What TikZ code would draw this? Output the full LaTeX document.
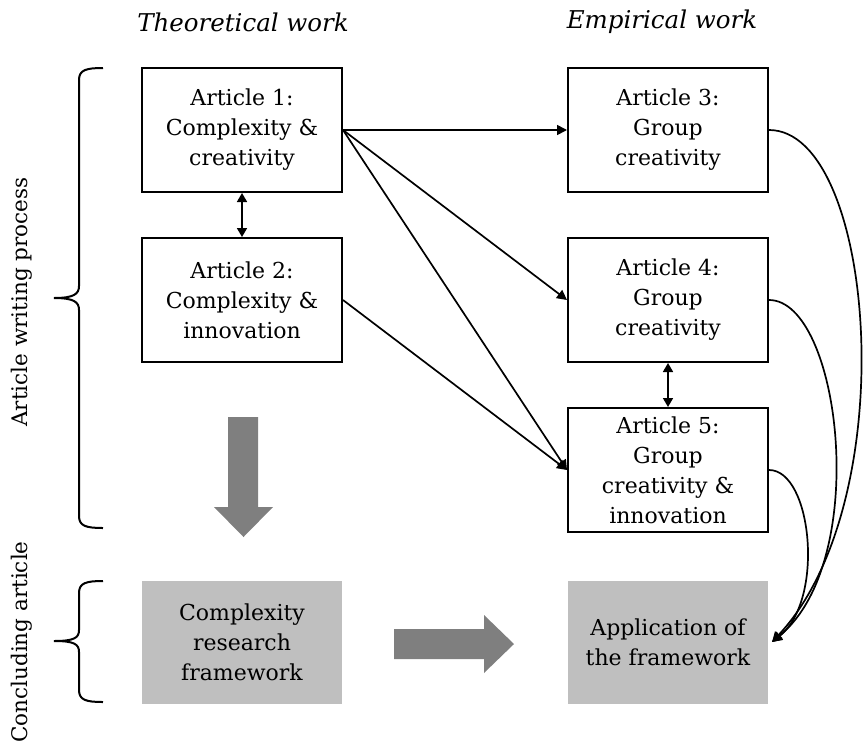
\documentclass[tikz,border=0pt]{standalone}
\usepackage{fontspec}
\setmainfont{DejaVu Serif}
\usetikzlibrary{arrows.meta}
\definecolor{boxgray}{HTML}{BFBFBF}
\definecolor{arrgray}{HTML}{7F7F7F}
\tikzset{
  artbox/.style={draw=black, line width=2pt, minimum width=200pt, minimum height=124pt, align=center, inner sep=0pt, font=\fontsize{22}{30}\selectfont},
  graybox/.style={fill=boxgray, minimum width=200pt, minimum height=123pt, align=center, inner sep=0pt, font=\fontsize{22}{30}\selectfont},
  conn/.style={line width=1.7pt, -{Triangle[length=10pt,width=10pt]}},
  dconn/.style={line width=1.7pt, {Triangle[length=9pt,width=10pt]}-{Triangle[length=9pt,width=10pt]}},
  title/.style={font=\fontsize{24.5}{28}\selectfont\itshape},
  sidelabel/.style={rotate=90, font=\fontsize{21.5}{26}\selectfont},
  bracestyle/.style={line width=2pt},
  bigarrow/.style={fill=arrgray, draw=none}
}
\begin{document}
\begin{tikzpicture}[x=1pt,y=-1pt]
\useasboundingbox (0,0) rectangle (864,747);
\node[title] (t1) at (243,22) {Theoretical work};
\node[title] (t2) at (662,22) {Empirical work};

\node[artbox] (a1) at (242,130) {Article 1:\\Complexity \&\\creativity};
\node[artbox] (a2) at (242,300) {Article 2:\\Complexity \&\\innovation};
\node[artbox] (a3) at (668,130) {Article 3:\\Group\\creativity};
\node[artbox] (a4) at (668,300) {Article 4:\\Group\\creativity};
\node[artbox] (a5) at (668,470) {Article 5:\\Group\\creativity \&\\innovation};
\node[graybox] (g1) at (242,642.5) {Complexity\\research\\framework};
\node[graybox] (g2) at (668,642.5) {Application of\\the framework};

\draw[dconn] (a1.south) -- (a2.north);
\draw[dconn] (a4.south) -- (a5.north);
\draw[conn] (a1.east) -- (a3.west);
\draw[conn] (a1.east) -- (a4.west);
\draw[conn] (a1.east) -- (a5.west);
\draw[conn] (a2.east) -- (a5.west);

\coordinate (gt) at (772,642);
\draw[conn] (a3.east) .. controls (875,130) and (905,500) .. (gt);
\draw[conn] (a4.east) .. controls (840,300) and (872,560) .. (gt);
\draw[conn] (a5.east) .. controls (812,470) and (825,600) .. (gt);

\fill[bigarrow] (228,417) -- (258,417) -- (258,507) -- (273,507) -- (243.5,537) -- (214,507) -- (228,507) -- cycle;
\fill[bigarrow] (394,629) -- (484,629) -- (484,615) -- (514,644) -- (484,673) -- (484,659) -- (394,659) -- cycle;

\draw[bracestyle] (103,68) .. controls (86,68) and (79,70) .. (79,80) -- (79,286)
  .. controls (79,294) and (74,298) .. (54,298)
  .. controls (74,298) and (79,302) .. (79,310) -- (79,516)
  .. controls (79,526) and (86,528) .. (103,528);
\draw[bracestyle] (103,581) .. controls (86,581) and (79,583) .. (79,593) -- (79,630)
  .. controls (79,638) and (74,641) .. (54,641)
  .. controls (74,641) and (79,644) .. (79,652) -- (79,690)
  .. controls (79,700) and (86,702) .. (103,702);

\node[sidelabel] (l1) at (22,302) {Article writing process};
\node[sidelabel] (l2) at (22,642) {Concluding article};
\end{tikzpicture}
\end{document}
